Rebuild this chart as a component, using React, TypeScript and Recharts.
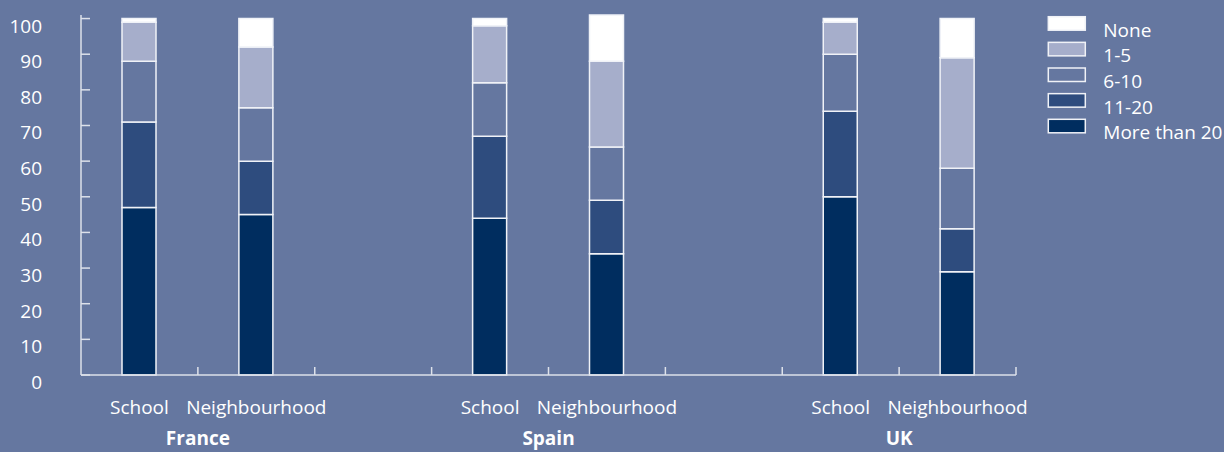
import { BarChart, Bar, XAxis, YAxis, Legend } from "recharts";

const countries = ["France", "Spain", "UK"];
const places = ["School", "Neighbourhood"];

// one value per bar: France School, France Neighbourhood, Spain School, ...
const moreThan20 = [47, 45, 44, 34, 50, 29];
const elevenTo20 = [24, 15, 23, 15, 24, 12];
const sixTo10 = [17, 15, 15, 15, 16, 17];
const oneTo5 = [11, 17, 16, 24, 9, 31];
const none = [1, 8, 2, 13, 1, 11];

const yTicks = [0, 10, 20, 30, 40, 50, 60, 70, 80, 90, 100];

const BG = "#6577a0";
const LINE = "#dde1ea";
const FONT = "'Open Sans', sans-serif";

const CHART_W = 1224;
const CHART_H = 452;
const YAXIS_W = 81;
const LEGEND_W = 208;

const series = [
  { key: "more20", name: "More than 20", values: moreThan20, color: "#002d5f" },
  { key: "e11", name: "11-20", values: elevenTo20, color: "#2e4c7e" },
  { key: "s6", name: "6-10", values: sixTo10, color: BG },
  { key: "o1", name: "1-5", values: oneTo5, color: "#a6aecb" },
  { key: "none", name: "None", values: none, color: "#ffffff" },
];

type Row = { key: string; place: string; country: string; [k: string]: any };

const rows: Row[] = [];
countries.forEach((c, ci) => {
  places.forEach((p, pi) => {
    const i = ci * places.length + pi;
    const row: Row = { key: `${c}-${p}`, place: p, country: pi === 0 ? c : "" };
    series.forEach((s) => (row[s.key] = s.values[i]));
    rows.push(row);
  });
  if (ci < countries.length - 1) rows.push({ key: `gap-${ci}`, place: "", country: "" });
});

const BAND = (CHART_W - YAXIS_W - LEGEND_W) / rows.length;

function XTick(props: any) {
  const { x, y, payload } = props;
  const row = rows.find((r) => r.key === payload.value);
  const bx = x + BAND / 2;
  return (
    <g>
      <line x1={bx} x2={bx} y1={y} y2={y - 8} stroke={LINE} strokeWidth={1.5} />
      {row?.place && (
        <text x={x} y={y + 39} textAnchor="middle" fill="#fff" fontSize={19} fontFamily={FONT}>
          {row.place}
        </text>
      )}
      {row?.country && (
        <text x={bx} y={y + 70} textAnchor="middle" fill="#fff" fontSize={19} fontWeight="bold" fontFamily={FONT}>
          {row.country}
        </text>
      )}
    </g>
  );
}

function YTick(props: any) {
  const { x, y, payload } = props;
  return (
    <g>
      <line x1={x} x2={x + 9} y1={y} y2={y} stroke={LINE} strokeWidth={1.5} />
      <text x={x - 39} y={y + 14} textAnchor="end" fill="#fff" fontSize={19} fontFamily={FONT}>
        {payload.value}
      </text>
    </g>
  );
}

function LegendBox() {
  const items = [...series].reverse();
  return (
    <svg width={LEGEND_W} height={150} style={{ display: "block" }}>
      {items.map((s, i) => {
        const top = 1.7 + i * 25.65;
        return (
          <g key={s.key}>
            <rect x={32.3} y={top} width={37} height={13.5} fill={s.color} stroke="#f0f2f7" strokeWidth={1.5} />
            <text x={87.3} y={top + 20} fill="#fff" fontSize={19} fontFamily={FONT}>
              {s.name}
            </text>
          </g>
        );
      })}
    </svg>
  );
}

export default function App() {
  return (
    <div style={{ position: "absolute", left: 0, top: 0, width: CHART_W, height: CHART_H, background: BG, overflow: "hidden" }}>
      <BarChart width={CHART_W} height={CHART_H} data={rows} margin={{ top: 15, right: 0, bottom: 0, left: 0 }}>
        <XAxis
          dataKey="key"
          interval={0}
          height={77}
          tickSize={0}
          tickMargin={0}
          tickLine={false}
          axisLine={{ stroke: LINE, strokeWidth: 1.5 }}
          tick={<XTick />}
        />
        <YAxis
          type="number"
          width={YAXIS_W}
          domain={[0, (dataMax: number) => Math.max(100, dataMax)]}
          ticks={yTicks}
          interval={0}
          tickSize={0}
          tickMargin={0}
          tickLine={false}
          axisLine={{ stroke: LINE, strokeWidth: 1.5 }}
          tick={<YTick />}
        />
        <Legend
          layout="vertical"
          align="right"
          verticalAlign="top"
          width={LEGEND_W}
          wrapperStyle={{ width: LEGEND_W }}
          content={() => <LegendBox />}
        />
        {series.map((s) => (
          <Bar
            key={s.key}
            dataKey={s.key}
            name={s.name}
            stackId="a"
            fill={s.color}
            stroke="#f0f2f7"
            strokeWidth={1.5}
            barSize={34}
            isAnimationActive={false}
          />
        ))}
      </BarChart>
    </div>
  );
}
